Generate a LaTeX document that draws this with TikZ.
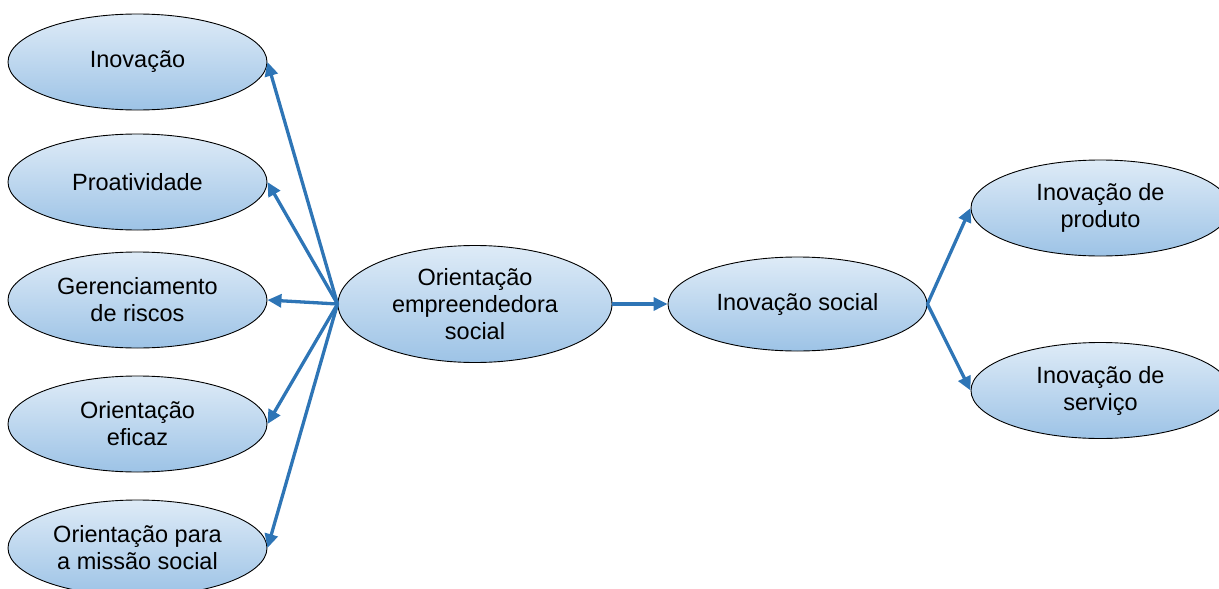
\documentclass[tikz,border=0pt]{standalone}
\usepackage{fontspec}
\setmainfont{Liberation Sans}
\usetikzlibrary{shapes.geometric,arrows.meta}
\definecolor{ctop}{RGB}{222,235,247}
\definecolor{cbot}{RGB}{157,195,230}
\definecolor{arrowblue}{RGB}{46,117,182}
\tikzset{
  oval/.style={ellipse, draw=black, line width=0.9pt, top color=ctop, bottom color=cbot,
    minimum width=259pt, minimum height=96pt, inner sep=0pt, align=center,
    font=\fontsize{23.5}{27}\selectfont},
  arr/.style={draw=arrowblue, line width=3.3pt, -{Triangle[length=14pt,width=13pt]}}
}
\begin{document}
\begin{tikzpicture}[x=1pt,y=-1pt]
\useasboundingbox (0,0) rectangle (1219,589);
\node[oval] (a) at (137.5,62) {Inovação};
\node[oval] (b) at (137.5,182) {Proatividade};
\node[oval] (g) at (137.5,300) {Gerenciamento\\de riscos};
\node[oval] (e) at (137.5,424) {Orientação\\eficaz};
\node[oval] (m) at (137.5,548) {Orientação para\\a missão social};
\node[oval, minimum width=274pt, minimum height=117pt] (c) at (475,304) {Orientação\\empreendedora\\social};
\node[oval, minimum height=94pt] (s) at (797.5,304) {Inovação social};
\node[oval] (p) at (1100.5,208) {Inovação de\\produto};
\node[oval] (v) at (1100.5,390.5) {Inovação de\\serviço};
\draw[arr] (c.west) -- (a.east);
\draw[arr] (c.west) -- (b.east);
\draw[arr] (c.west) -- (g.east);
\draw[arr] (c.west) -- (e.east);
\draw[arr] (c.west) -- (m.east);
\draw[arr] (c.east) -- (s.west);
\draw[arr] (s.east) -- (p.west);
\draw[arr] (s.east) -- (v.west);
\end{tikzpicture}
\end{document}
